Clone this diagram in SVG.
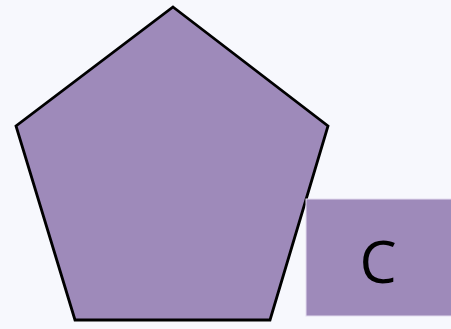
<svg xmlns="http://www.w3.org/2000/svg" width="451" height="329" viewBox="0 0 451 329">
<style>
.shape{fill:#9e8aba}
.lbl{font-family:"Open Sans","Noto Sans",sans-serif;font-size:59px;fill:#000;text-anchor:middle}
</style>
<rect width="451" height="329" fill="#f7f8fd"/>
<g id="pentagon">
<polygon class="shape" points="173,7 328,126 270,320 75,320 16,126" stroke="#000" stroke-width="2.8" stroke-linejoin="miter"/>
</g>
<g id="nodeC">
<rect class="shape" x="306" y="199" width="146" height="117" stroke="#e3dcef" stroke-width="1"/>
<text class="lbl" x="378" y="283">C</text>
</g>
<g id="connectors"></g>
</svg>
